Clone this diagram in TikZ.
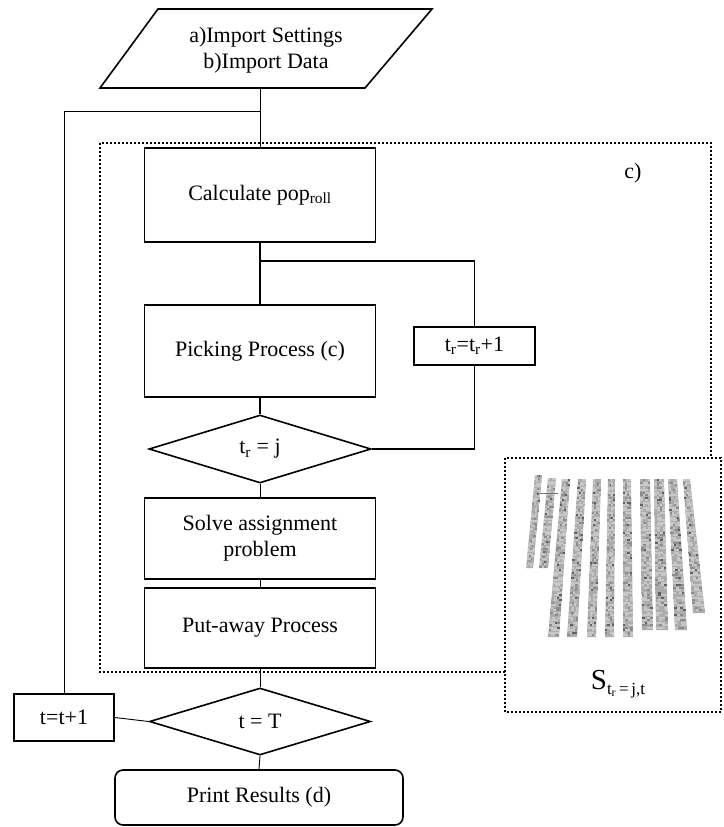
\documentclass[tikz,border=0pt]{standalone}
\usepackage{fontspec}
\setmainfont{Liberation Serif}
\usetikzlibrary{shapes.geometric}

\tikzset{
  box/.style={draw, line width=1.6pt, rectangle, inner sep=0pt, align=center},
  decision/.style={draw, line width=1.6pt, diamond, shape aspect=3, inner sep=0pt},
  flow/.style={line width=0.9pt},
  loopline/.style={line width=1.6pt},
  region/.style={line width=2pt, dash pattern=on 2pt off 2pt},
}

\begin{document}
\begin{tikzpicture}[x=1pt, y=-1pt, font=\fontsize{22}{26}\selectfont]
\useasboundingbox (0,0) rectangle (723,827);

% dotted region around the inner loop
\draw[region] (100,143) rectangle (711,672);

% input step
\draw[line width=1.6pt] (158,9) -- (432,9) -- (365,88) -- (100,88) -- cycle;
\node[align=center] (input) at (266,50) {a)Import Settings\\b)Import Data};
\coordinate (inbot) at (260,88);
\coordinate (back) at (260,111);

% process steps
\node[box, minimum width=231pt, minimum height=94pt] (calc) at (260,195) {Calculate pop\textsubscript{roll}};
\node[box, minimum width=231pt, minimum height=92pt] (pick) at (260,351) {Picking Process (c)};
\node[box, minimum width=121pt, minimum height=38pt] (trinc) at (474.5,346) {t\textsubscript{r}=t\textsubscript{r}+1};
\node[decision, minimum width=222pt, minimum height=68pt] (trj) at (260,449) {t\textsubscript{r} = j};
\node[box, minimum width=231pt, minimum height=81pt] (solve) at (260,538.5) {Solve assignment\\problem};
\node[box, minimum width=231pt, minimum height=80pt] (put) at (260,628) {Put-away Process};
\node[decision, minimum width=221pt, minimum height=67pt] (tT) at (260,721.5) {t = T};
\node[box, minimum width=100pt, minimum height=47pt] (tinc) at (64,717.5) {t=t+1};
\node[box, rounded corners=8pt, minimum width=288pt, minimum height=55pt] (print) at (259,797.5) {Print Results (d)};

\node (clabel) at (633,173) {c)};

% connectors
\coordinate (split) at (260,261);
\draw[flow] (inbot) -- (calc.north);
\draw[loopline] (calc.south) -- (pick.north);
\draw[loopline] (split) -| (trinc.north);
\draw[loopline] (pick.south) -- (trj.north);
\draw[loopline] (trj.east) -| (trinc.south);
\draw[flow] (trj.south) -- (solve.north);
\draw[flow] (solve.south) -- (put.north);
\draw[flow] (put.south) -- (tT.north);
\draw[flow] (tT.south) -- (print.north);
\draw[flow] (tT.west) -- (tinc.east);
\draw[flow] (tinc.north) |- (back);

% storage rack panel
\draw[region, fill=white] (505,458) rectangle (721,712);
\pgfmathsetseed{7}
\foreach \xa/\xb/\ty/\xc/\xd/\by in {
  535/542/475/526/533/568,
  548/556/478/539/548/568,
  562/570/479/548/559/637,
  578/586/479/567/577/637,
  593/601/479/587/596/637,
  608/615/479/605/614/637,
  623/631/479/623/633/637,
  640/650/479/642/653/630,
  654/664/479/656/668/630,
  668/677/479/675/687/630,
  683/690/479/693/705/613}{
  \fill[black!32] (\xa,\ty) -- (\xb,\ty) -- (\xd,\by) -- (\xc,\by) -- cycle;
  \pgfmathtruncatemacro{\nrows}{(\by-\ty)/2.5}
  \foreach \k in {1,...,\nrows}{
    \pgfmathsetmacro{\yy}{\ty+(\k-1)*2.5}
    \pgfmathsetmacro{\fr}{(\yy-\ty)/(\by-\ty)}
    \pgfmathsetmacro{\xl}{\xa+(\xc-\xa)*\fr}
    \pgfmathsetmacro{\xr}{\xb+(\xd-\xb)*\fr}
    \foreach \c in {0,1,2,3}{
      \pgfmathrandominteger{\r}{0}{99}
      \pgfmathtruncatemacro{\sh}{\r>93 ? 62 : (\r>80 ? 45 : (\r>50 ? 33 : 22))}
      \fill[black!\sh] ({\xl+(\xr-\xl)*\c/4},\yy) rectangle ({\xl+(\xr-\xl)*(\c+1)/4},\yy+2.2);
    }
  }
}
\draw[black!55, line width=0.8pt] (540,493) -- (558,493);
\node (slabel) at (618,684) {{\fontsize{29}{30}\selectfont S}\raisebox{-5pt}{\fontsize{17}{18}\selectfont t\textsubscript{r}\,=\,j,t}};
\end{tikzpicture}
\end{document}
